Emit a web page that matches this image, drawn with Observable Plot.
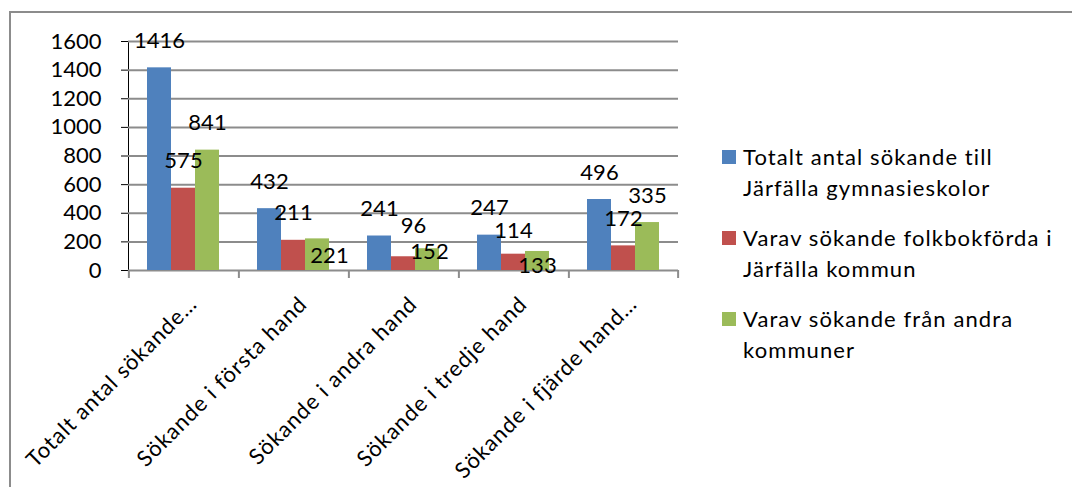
<!DOCTYPE html>
<html>
<head>
<meta charset="utf-8">
<script src="https://cdn.jsdelivr.net/npm/d3@7"></script>
<script src="https://cdn.jsdelivr.net/npm/@observablehq/plot@0.6"></script>
<style>
  html, body { margin: 0; padding: 0; background: #fff; }
  #wrap { position: relative; width: 1072px; height: 487px; overflow: hidden; font-family: Lato, sans-serif; }
  #frame { position: absolute; left: 9px; top: 11px; width: 1200px; height: 600px; border: 2px solid #8c8c8c; box-sizing: border-box; }
  #chart { position: absolute; left: 0; top: 0; }
  #chart [aria-label^="fx-axis"] text { letter-spacing: 1px; }
  #legend { position: absolute; left: 722px; top: 141px; font-size: 22px; line-height: 31px; color: #000; letter-spacing: 1.1px; }
  .item { position: relative; padding-left: 21px; margin-bottom: 19px; }
  .sw { position: absolute; left: 0; top: 9px; width: 14px; height: 14px; }
</style>
</head>
<body>
<div id="wrap">
  <div id="frame"></div>
  <div id="chart"></div>
  <div id="legend"></div>
</div>
<script>
const categories = ["Totalt antal sökande…", "Sökande i första hand", "Sökande i andra hand", "Sökande i tredje hand", "Sökande i fjärde hand…"];
const seriesNames = ["Totalt antal sökande till Järfälla gymnasieskolor", "Varav sökande folkbokförda i Järfälla kommun", "Varav sökande från andra kommuner"];
const legendLines = [["Totalt antal sökande till", "Järfälla gymnasieskolor"], ["Varav sökande folkbokförda i", "Järfälla kommun"], ["Varav sökande från andra", "kommuner"]];
const totalt = [1416, 432, 241, 247, 496];
const folkbokforda = [575, 211, 96, 114, 172];
const andraKommuner = [841, 221, 152, 133, 335];
const yTicks = [0, 200, 400, 600, 800, 1000, 1200, 1400, 1600];
const colors = ["#4F81BD", "#C0504D", "#9BBB59"];

// Label placement tweaks (pixel nudges of a few data labels, as in the original chart)
const labelNudges = {
  "Sökande i första hand|2": [12, 17],
  "Sökande i andra hand|1": [10, -31],
  "Sökande i andra hand|2": [2, 3],
  "Sökande i tredje hand|1": [0, -23],
  "Sökande i tredje hand|2": [0, 14]
};

const seriesValues = [totalt, folkbokforda, andraKommuner];
const data = [];
categories.forEach((c, i) => seriesNames.forEach((s, j) => data.push({category: c, series: s, si: j, value: seriesValues[j][i]})));
const keyOf = d => d.category + "|" + d.si;

const W = 700, H = 487, mL = 127, mR = 22, mT = 41, mB = 217;
const facetW = (W - mL - mR) / categories.length;
const bw = facetW / 4.5;
const gray = "#8c8c8c";

const textMarks = [
  Plot.text(data.filter(d => !(keyOf(d) in labelNudges)), {fx: "category", x: "series", y: "value", text: d => String(d.value), dy: -27, fontSize: 22, fill: "#000"}),
  ...Object.entries(labelNudges).map(([k, [dx, dy]]) =>
    Plot.text(data.filter(d => keyOf(d) === k), {fx: "category", x: "series", y: "value", text: d => String(d.value), dx, dy, fontSize: 22, fill: "#000"}))
];

const hasAxisMarks = typeof Plot.axisFx === "function";

const chart = Plot.plot({
  width: W, height: H,
  marginLeft: mL, marginRight: mR, marginTop: mT, marginBottom: mB,
  style: {fontFamily: "Lato, sans-serif", fontSize: "22px", color: "#000", background: "transparent", overflow: "visible"},
  fx: {domain: categories, padding: 0, axis: hasAxisMarks ? null : "bottom", tickRotate: -45, tickSize: 0, tickPadding: 30, label: null},
  x: {domain: seriesNames, paddingInner: 0, paddingOuter: 0.75, axis: null},
  y: {domain: [0, 1600], ticks: yTicks, tickSize: 7, tickPadding: 20, label: null, tickFormat: d => String(d), line: true},
  color: {domain: seriesNames, range: colors},
  marks: [
    Plot.ruleY(yTicks, {stroke: gray, strokeWidth: 2}),
    Plot.barY(data, {fx: "category", x: "series", y: "value", fill: "series"}),
    Plot.ruleX(categories, {fx: d => d, x: () => seriesNames[0], dx: -1.25 * bw, y1: 0, y2: 0, insetBottom: -8, stroke: gray, strokeWidth: 2}),
    Plot.ruleX(categories.slice(-1), {fx: d => d, x: () => seriesNames[2], dx: 1.25 * bw, y1: 0, y2: 0, insetBottom: -8, stroke: gray, strokeWidth: 2}),
    ...(hasAxisMarks ? [Plot.axisFx({anchor: "bottom", tickRotate: -45, tickSize: 0, tickPadding: 14, dx: 10, dy: 16, label: null, fontSize: 22})] : []),
    ...textMarks
  ]
});
document.getElementById("chart").appendChild(chart);

const legend = document.getElementById("legend");
seriesNames.forEach((s, j) => {
  const div = document.createElement("div");
  div.className = "item";
  const sw = document.createElement("span");
  sw.className = "sw";
  sw.style.background = colors[j];
  div.appendChild(sw);
  legendLines[j].forEach(line => {
    const l = document.createElement("div");
    l.textContent = line;
    div.appendChild(l);
  });
  legend.appendChild(div);
});
</script>
</body>
</html>
